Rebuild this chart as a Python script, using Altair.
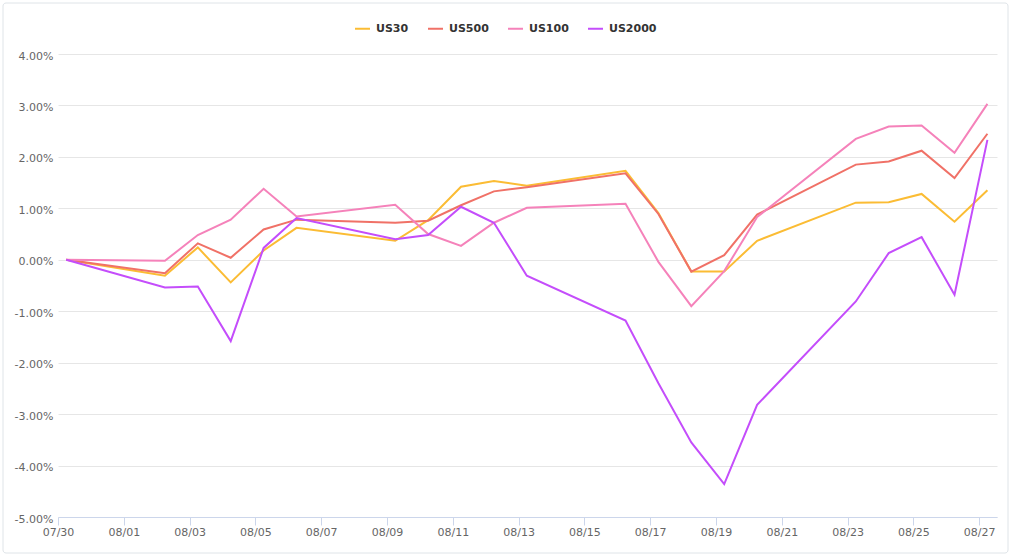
import altair as alt
import pandas as pd

# Trading days (each value is the cumulative % change since 07/30)
dates = ["2021-07-30", "2021-08-02", "2021-08-03", "2021-08-04", "2021-08-05", "2021-08-06",
         "2021-08-09", "2021-08-10", "2021-08-11", "2021-08-12", "2021-08-13",
         "2021-08-16", "2021-08-17", "2021-08-18", "2021-08-19", "2021-08-20",
         "2021-08-23", "2021-08-24", "2021-08-25", "2021-08-26", "2021-08-27"]

us30 = [0.00, -0.31, 0.24, -0.44, 0.18, 0.62, 0.37, 0.77, 1.42, 1.53, 1.44,
        1.73, 0.91, -0.23, -0.23, 0.37, 1.11, 1.12, 1.28, 0.74, 1.35]
us500 = [0.00, -0.26, 0.32, 0.04, 0.59, 0.78, 0.72, 0.76, 1.06, 1.33, 1.41,
         1.68, 0.89, -0.23, 0.09, 0.88, 1.85, 1.91, 2.12, 1.59, 2.45]
us100 = [0.00, -0.02, 0.48, 0.78, 1.38, 0.84, 1.07, 0.50, 0.27, 0.72, 1.01,
         1.09, -0.04, -0.90, -0.22, 0.83, 2.35, 2.59, 2.61, 2.08, 3.03]
us2000 = [0.00, -0.54, -0.52, -1.58, 0.23, 0.81, 0.40, 0.48, 1.03, 0.72, -0.31,
          -1.18, -2.40, -3.55, -4.36, -2.82, -0.81, 0.13, 0.44, -0.68, 2.33]

series_names = ["US30", "US500", "US100", "US2000"]
series_colors = ["#fbbc34", "#f07167", "#f582ba", "#c44dfb"]

x_ticks = ["2021-07-30", "2021-08-01", "2021-08-03", "2021-08-05", "2021-08-07",
           "2021-08-09", "2021-08-11", "2021-08-13", "2021-08-15", "2021-08-17",
           "2021-08-19", "2021-08-21", "2021-08-23", "2021-08-25", "2021-08-27"]
y_ticks_pct = [-5, -4, -3, -2, -1, 0, 1, 2, 3, 4]


def dt(s, hours=0):
    y, m, d = (int(p) for p in s.split("-"))
    return alt.DateTime(year=y, month=m, date=d, hours=hours, utc=True)


rows = []
for name, vals in zip(series_names, [us30, us500, us100, us2000]):
    for d, v in zip(dates, vals):
        rows.append({"date": d + "T06:00:00Z", "series": name, "value": v / 100.0})
df = pd.DataFrame(rows)

font = "DejaVu Sans"

lines = alt.Chart(df).mark_line(strokeWidth=2, clip=False).encode(
    x=alt.X(
        "date:T",
        title=None,
        scale=alt.Scale(type="utc", domain=[dt(x_ticks[0]), dt(x_ticks[-1], hours=13)]),
        axis=alt.Axis(
            values=[dt(t) for t in x_ticks],
            labelExpr="utcFormat(datum.value, '%m/%d')",
            grid=False,
            domainColor="#ccd6eb",
            tickColor="#ccd6eb",
            tickSize=8,
            labelPadding=1,
            labelFont=font,
            labelFontSize=11,
            labelColor="#666666",
            labelFlush=False,
            labelOverlap=False,
        ),
    ),
    y=alt.Y(
        "value:Q",
        title=None,
        scale=alt.Scale(domain=[y_ticks_pct[0] / 100, y_ticks_pct[-1] / 100], nice=False, zero=False),
        axis=alt.Axis(
            values=[v / 100 for v in y_ticks_pct],
            labelExpr="(datum.value < 0 ? '-' : '') + format(abs(datum.value), '.2%')",
            domain=False,
            ticks=False,
            grid=True,
            gridColor="#e6e6e6",
            gridWidth=1,
            labelPadding=5,
            labelOffset=2,
            labelFont=font,
            labelFontSize=11,
            labelColor="#666666",
        ),
    ),
    color=alt.Color(
        "series:N",
        scale=alt.Scale(domain=series_names, range=series_colors),
        sort=series_names,
        legend=alt.Legend(
            title=None,
            orient="none",
            legendX=296,
            legendY=-34,
            direction="horizontal",
            symbolType="stroke",
            symbolStrokeWidth=2,
            symbolSize=225,
            labelFont=font,
            labelFontSize=11,
            labelFontWeight="bold",
            labelColor="#333333",
            labelOffset=5,
            columnPadding=15,
            padding=0,
        ),
    ),
)

border = alt.Chart(alt.Data(values=[{}])).mark_rect(
    fillOpacity=0, stroke="#dfe4e8", strokeWidth=1, cornerRadius=3, clip=False
).encode(
    x=alt.value(-55), x2=alt.value(950), y=alt.value(-51), y2=alt.value(499)
)

chart = alt.layer(border, lines).properties(
    width=939,
    height=463,
    padding={"left": 58, "top": 54, "right": 17, "bottom": 43},
    autosize=alt.AutoSizeParams(type="none"),
    background="white",
).configure_view(strokeWidth=0)

chart.save("out.html", embed_options={"renderer": "svg", "actions": False})
